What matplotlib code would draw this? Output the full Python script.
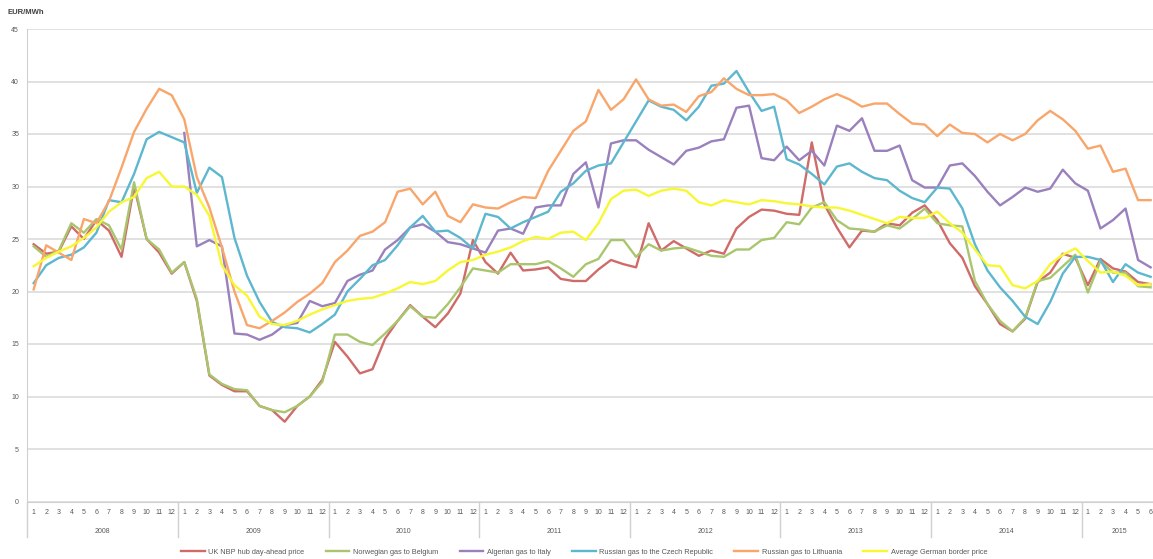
import numpy as np
import matplotlib
matplotlib.use("Agg")
import matplotlib.pyplot as plt
from matplotlib.lines import Line2D

plt.rcParams['font.family'] = ['Liberation Sans', 'DejaVu Sans']

years = ['2008', '2009', '2010', '2011', '2012', '2013', '2014', '2015']
months_per_year = [12, 12, 12, 12, 12, 12, 12, 6]
month_labels = [str(m) for n in months_per_year for m in range(1, n + 1)]

series_names = ['UK NBP hub day-ahead price', 'Norwegian gas to Belgium',
                'Algerian gas to Italy', 'Russian gas to the Czech Republic',
                'Russian gas to Lithuania', 'Average German border price']

uk_nbp = [24.5, 23.6, 23.8, 26.2, 25.0, 26.8, 25.8, 23.3, 30.0, 25.0, 23.7, 21.7,
          22.8, 19.1, 12.0, 11.1, 10.5, 10.5, 9.1, 8.7, 7.6, 9.1, 10.0, 11.6,
          15.2, 13.8, 12.2, 12.6, 15.5, 17.2, 18.7, 17.6, 16.6, 17.9, 19.8, 24.9,
          22.8, 21.7, 23.7, 22.0, 22.1, 22.3, 21.2, 21.0, 21.0, 22.1, 23.0, 22.6,
          22.3, 26.5, 23.9, 24.8, 24.1, 23.4, 23.9, 23.6, 26.0, 27.1, 27.8, 27.7,
          27.4, 27.3, 34.2, 28.3, 26.1, 24.2, 25.8, 25.7, 26.5, 26.3, 27.5, 28.2,
          26.8, 24.6, 23.2, 20.5, 18.8, 16.9, 16.2, 17.4, 20.9, 21.8, 23.6, 23.2,
          20.6, 23.1, 22.2, 21.9, 20.9, 20.7]

norway_belgium = [24.3, 23.3, 23.9, 26.5, 25.6, 26.9, 26.3, 24.0, 30.4, 25.0, 24.0, 21.8,
                  22.8, 19.3, 12.1, 11.2, 10.7, 10.6, 9.1, 8.7, 8.5, 9.1, 10.0, 11.4,
                  15.9, 15.9, 15.2, 14.9, 16.0, 17.2, 18.6, 17.6, 17.5, 18.8, 20.4, 22.2,
                  22.0, 21.8, 22.6, 22.6, 22.6, 22.9, 22.2, 21.4, 22.6, 23.1, 24.9, 24.9,
                  23.3, 24.5, 23.9, 24.1, 24.2, 23.8, 23.4, 23.3, 24.0, 24.0, 24.9, 25.1,
                  26.6, 26.4, 28.0, 28.5, 26.8, 26.0, 25.9, 25.7, 26.3, 26.0, 26.9, 27.9,
                  26.5, 26.3, 26.2, 21.0, 18.8, 17.2, 16.2, 17.5, 21.0, 21.3, 22.4, 23.5,
                  19.9, 22.9, 21.8, 21.8, 20.5, 20.4]

nan = float('nan')
algeria_italy = [nan] * 12 + [
                 35.1, 24.3, 24.9, 24.3, 16.0, 15.9, 15.4, 15.9, 16.8, 17.0, 19.1, 18.6,
                 18.9, 21.0, 21.6, 22.0, 24.0, 24.9, 26.1, 26.4, 25.7, 24.7, 24.5, 24.1,
                 23.7, 25.8, 26.0, 25.5, 28.0, 28.2, 28.2, 31.2, 32.3, 28.0, 34.1, 34.4,
                 34.4, 33.5, 32.8, 32.1, 33.4, 33.7, 34.3, 34.5, 37.5, 37.7, 32.7, 32.5,
                 33.8, 32.5, 33.4, 32.0, 35.8, 35.3, 36.5, 33.4, 33.4, 33.9, 30.6, 29.9,
                 29.9, 32.0, 32.2, 31.0, 29.5, 28.2, 29.0, 29.9, 29.5, 29.8, 31.6, 30.3,
                 29.6, 26.0, 26.8, 27.9, 23.0, 22.3]

russia_czech = [20.8, 22.5, 23.2, 23.5, 24.2, 25.6, 28.7, 28.5, 31.2, 34.5, 35.2, 34.7,
                34.2, 29.4, 31.8, 30.9, 25.1, 21.5, 19.0, 17.1, 16.6, 16.5, 16.1, 16.9,
                17.8, 20.0, 21.2, 22.5, 23.0, 24.4, 26.1, 27.2, 25.7, 25.8, 25.1, 24.1,
                27.4, 27.1, 26.0, 26.6, 27.1, 27.6, 29.5, 30.3, 31.5, 32.0, 32.2, 34.2,
                36.2, 38.2, 37.6, 37.3, 36.3, 37.6, 39.6, 39.8, 41.0, 39.0, 37.2, 37.6,
                32.6, 32.1, 31.2, 30.2, 31.9, 32.2, 31.4, 30.8, 30.6, 29.6, 28.9, 28.5,
                29.9, 29.8, 27.9, 24.5, 22.0, 20.4, 19.1, 17.6, 16.9, 19.0, 21.7, 23.3,
                23.3, 23.0, 20.9, 22.6, 21.8, 21.4]

russia_lithuania = [20.2, 24.4, 23.7, 23.0, 26.9, 26.5, 28.6, 31.8, 35.2, 37.4, 39.3, 38.7,
                    36.4, 30.9, 28.0, 24.2, 20.0, 16.8, 16.5, 17.2, 18.0, 19.0, 19.8, 20.8,
                    22.8, 23.9, 25.3, 25.7, 26.6, 29.5, 29.8, 28.3, 29.5, 27.2, 26.6, 28.3,
                    28.0, 27.9, 28.5, 29.0, 28.9, 31.5, 33.4, 35.3, 36.2, 39.2, 37.3, 38.3,
                    40.2, 38.3, 37.7, 37.8, 37.1, 38.6, 39.0, 40.3, 39.3, 38.7, 38.7, 38.8,
                    38.2, 37.0, 37.6, 38.3, 38.8, 38.3, 37.6, 37.9, 37.9, 36.9, 36.0, 35.9,
                    34.8, 35.9, 35.1, 35.0, 34.2, 35.0, 34.4, 35.0, 36.3, 37.2, 36.4, 35.3,
                    33.6, 33.9, 31.4, 31.7, 28.7, 28.7]

german_border = [22.4, 23.2, 23.8, 24.3, 25.1, 26.1, 27.6, 28.5, 29.0, 30.8, 31.4, 30.0,
                 30.0, 29.2, 27.2, 22.5, 20.6, 19.6, 17.6, 16.9, 16.8, 17.2, 17.8, 18.3,
                 18.7, 19.1, 19.3, 19.4, 19.8, 20.3, 20.9, 20.7, 21.0, 22.0, 22.8, 23.0,
                 23.5, 23.8, 24.2, 24.8, 25.2, 25.0, 25.6, 25.7, 24.9, 26.5, 28.8, 29.6,
                 29.7, 29.1, 29.6, 29.8, 29.6, 28.5, 28.2, 28.7, 28.5, 28.3, 28.7, 28.6,
                 28.4, 28.3, 28.1, 28.0, 28.0, 27.7, 27.3, 26.9, 26.5, 27.1, 27.0, 27.0,
                 27.6, 26.5, 25.6, 24.0, 22.5, 22.4, 20.6, 20.3, 21.0, 22.6, 23.5, 24.1,
                 22.9, 21.8, 21.9, 21.5, 20.6, 20.7]

series_values = [uk_nbp, norway_belgium, algeria_italy, russia_czech,
                 russia_lithuania, german_border]
colors = ['#CF6B69', '#A9C66E', '#9A80BC', '#5DB7CF', '#F8A66B', '#F7F733']

W, H = 1153, 559
fig = plt.figure(figsize=(W / 100, H / 100), dpi=100)
n = len(month_labels)
px_month = 12.55
left_px, top_px, bottom_px = 27.4, 29.0, 501.5
ax = fig.add_axes([left_px / W, (H - bottom_px) / H,
                   n * px_month / W, (bottom_px - top_px) / H])

x = np.arange(n)
for vals, c in zip(series_values, colors):
    ax.plot(x, vals, color=c, lw=1.7, solid_joinstyle='round')

ax.set_xlim(-0.5, n - 0.5)
ax.set_ylim(0, 45)
ax.set_yticks(np.arange(0, 46, 5))
ax.yaxis.grid(True, color='#D9D9D9', lw=1.1)
ax.set_axisbelow(True)
for s in ['top', 'right']:
    ax.spines[s].set_visible(False)
ax.spines['left'].set_color('#D0D0D0')
ax.spines['bottom'].set_color('#D0D0D0')
ax.tick_params(axis='y', length=0, pad=6, labelsize=5, labelcolor='#595959')
ax.set_xticks(x)
ax.set_xticklabels(month_labels)
ax.tick_params(axis='x', length=0, pad=5.5, labelsize=5, labelcolor='#595959')

# year groups
trans = ax.get_xaxis_transform()
axh = bottom_px - top_px
sep_len = 35 / axh
start = 0
for yr, m in zip(years, months_per_year):
    ax.plot([start - 0.5, start - 0.5], [0, -sep_len], transform=trans,
            color='#D0D0D0', lw=1.0, clip_on=False)
    ax.text(start + (m - 1) / 2, -30 / axh, yr, transform=trans,
            ha='center', va='center', fontsize=5, color='#595959')
    start += m

fig.text(8 / W, 1 - 12.3 / H, 'EUR/MWh', fontsize=5.5, fontweight='bold',
         color='#404040', ha='left', va='center')

handles = [Line2D([], [], color=c, lw=1.7) for c in colors]
fig.legend(handles, series_names, loc='center', bbox_to_anchor=(584 / W, 1 - 552 / H),
           ncol=6, frameon=False, fontsize=5.3, handlelength=3.2,
           handletextpad=0.5, columnspacing=2.9, labelcolor='#595959')

fig.savefig('out.png', dpi=100)
